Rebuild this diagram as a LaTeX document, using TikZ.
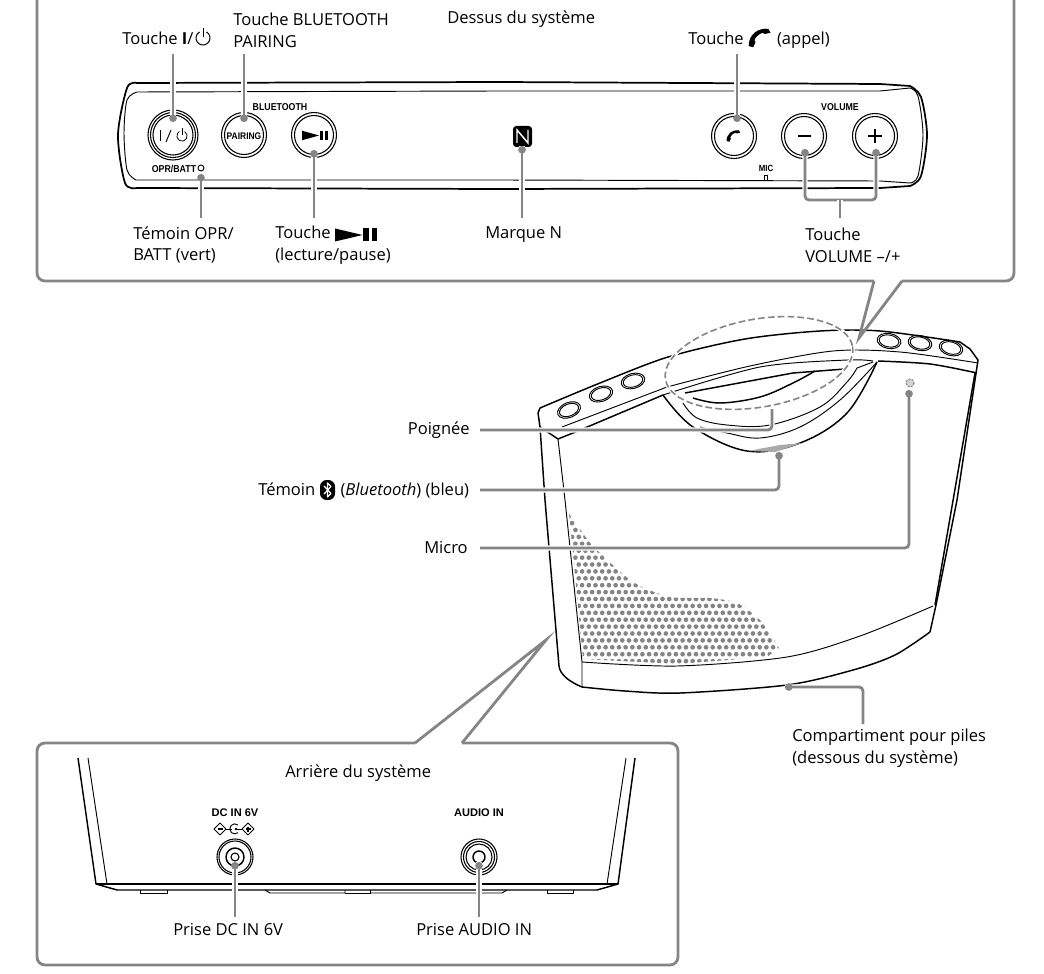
\documentclass[tikz,border=0pt]{standalone}
\usepackage{fontspec}
\setmainfont{Open Sans}
\newfontfamily\capfont[FakeStretch=0.88]{Liberation Sans}
\newfontfamily\widecapfont{Liberation Sans}
\usetikzlibrary{arrows.meta}

\definecolor{leadergray}{gray}{0.52}

\tikzset{
  lbl/.style={anchor=west,align=left,inner sep=0pt,font=\fontsize{12.4pt}{16.4pt}\selectfont},
  smallcap/.style={inner sep=0pt,font=\capfont\bfseries\fontsize{7.5pt}{8pt}\selectfont},
  widecap/.style={inner sep=0pt,font=\widecapfont\bfseries\fontsize{8.3pt}{9pt}\selectfont},
  leader/.style={draw=leadergray,line width=2.1pt,rounded corners=3pt,
    {Circle[length=5.6pt,width=5.6pt]}-,
    preaction={draw=white,line width=3.8pt,-}},
  plainleader/.style={draw=leadergray,line width=2.1pt,rounded corners=3pt,
    preaction={draw=white,line width=3.8pt}},
  callout/.style={draw=leadergray,line width=2.1pt,line join=miter},
  bodyline/.style={line width=1.1pt,line join=round},
  thinline/.style={line width=.7pt,line join=round},
  ring/.style={line width=.8pt},
  dashring/.style={draw=leadergray,line width=1.2pt,dash pattern=on 5pt off 2.4pt,
    preaction={draw=white,solid,line width=3pt}},
}

\newcommand\PowerIcon[4]{%% x, y, radius, line width
  \draw[line width=#4] (#1,#2) ++(-60:#3) arc[start angle=-60,end angle=240,radius=#3];
  \draw[line width=#4] (#1,#2-1.45*#3) -- (#1,#2-.1*#3);
}
\newcommand\PlayPause[4]{%% x, y, x size, y size
  \begin{scope}[shift={(#1,#2)},xscale=#3,yscale=#4]
    \fill (0,-5) -- (18,0) -- (0,5) -- cycle;
    \fill (18.5,-5) rectangle (22,5);
    \fill (24,-5) rectangle (27.5,5);
  \end{scope}
}
\newcommand\PhoneIcon[3]{%% x, y, size
  \begin{scope}[shift={(#1,#2)},scale=#3]
    \fill[line join=round] (-9,7) .. controls (-9,-3) and (-1,-9) .. (8,-8)
      -- (10,-4.5) -- (5,-3.5) -- (3,-4.5) .. controls (0,-3.5) and (-3,-1) .. (-4,2)
      -- (-3,3.5) -- (-5,8) -- cycle;
  \end{scope}
}
\newcommand\BtIcon[2]{%% x, y
  \fill[rounded corners=5pt] (#1-7.5,#2-10) rectangle (#1+7.5,#2+10);
  \draw[white,line width=.9pt,line join=round] (#1-3.5,#2-4) -- (#1+3.5,#2+3.5) -- (#1,#2+7)
    -- (#1,#2-7) -- (#1+3.5,#2-3.5) -- (#1-3.5,#2+4);
}

\begin{document}
\begin{tikzpicture}[x=.75pt,y=-.75pt]
  \useasboundingbox (0,0) rectangle (1044,973);

  %% speaker body
  \draw[bodyline] (558,439) -- (540,427) -- (538,413) -- (540,408)
    plot[smooth,tension=.5] coordinates {(540,408) (600,383) (668,357) (745,339) (820,331) (880,331) (960,342)}
    -- (970,349) -- (978,360) -- (957,500) -- (936,605) -- (930,632);
  \draw[bodyline] plot[smooth,tension=.5] coordinates {(930,632) (895,655) (853,670) (787,685) (680,693) (625,691) (582,687)};
  \draw[bodyline] (582,687) .. controls (570,682) and (560,675) .. (559,666) -- (545,500) -- (540,427);
  \draw[thinline] (558,439) -- (565,500) -- (582,662) -- (582,687);
  \draw[thinline] plot[smooth,tension=.5] coordinates {(582,662) (677,666) (787,657) (860,636) (933,606)};
  \draw[bodyline] (975,373) -- (935,605);
  \draw[thinline] (562,427) -- (667,387);
  \draw[thinline] plot[smooth,tension=.5] coordinates {(667,387) (750,366) (833,351) (900,352) (978,363)};
  \draw[bodyline] (558,439) -- (573,433) -- (663,395);
  \draw[thinline] plot[smooth,tension=.5] coordinates {(663,395) (760,367) (847,360) (873,361)};
  \draw[bodyline] plot[smooth,tension=.5] coordinates {(878,361) (930,364) (977,373)};

  %% handle
  \draw[bodyline] plot[smooth,tension=.6] coordinates {(663,395) (693,427) (747,451) (800,443) (847,413) (877,362)};
  \draw[thinline] plot[smooth,tension=.6] coordinates {(683,403) (697,418) (727,425) (770,425) (820,407) (847,382) (857,368)};
  \draw[thinline] (857,368) -- (873,362);
  \draw[thinline] plot[smooth,tension=.6] coordinates {(700,427) (727,433) (760,438) (800,427) (840,400) (877,362)};
  \draw[bodyline] (685,393) -- (793,373) -- (845,369);
  \draw[bodyline] plot[smooth,tension=.6] coordinates {(693,398) (720,403) (760,397) (793,383) (815,371)};
  \fill[leadergray!70] (748,451) -- (780,445) -- (802,443) -- (775,452) -- cycle;

  %% buttons on the body
  \foreach \bx/\by/\brot in {569/410/22, 601/394/18, 633/381/15, 889/341/-10, 920/343/-12, 951/348/-15}{
    \draw[thinline,rotate around={\brot:(\bx,\by)}] (\bx,\by) ellipse[x radius=12,y radius=7.5];
    \draw[thinline,rotate around={\brot:(\bx,\by)}] (\bx,\by) ellipse[x radius=10,y radius=6];
  }

  %% grille
  \begin{scope}
    \clip plot[smooth,tension=.4] coordinates {(569,513) (592,545) (633,582) (670,597) (710,598) (737,603) (760,620) (779,648)}
      -- (767,657) -- (677,664) -- (583,659) -- cycle;
    \foreach \r in {0,...,23}{
      \foreach \c in {0,...,32}{
        \pgfmathsetmacro\gx{562+6.7*\c+3.35*mod(\r,2)}
        \pgfmathsetmacro\gy{502.4+6.9*\r}
        \fill[leadergray] (\gx,\gy) circle (2.35);
      }
    }
  \end{scope}

  \draw[dashring,rotate around={10:(759,363)}] (759,363) ellipse[x radius=95,y radius=44];
  \draw[leadergray,line width=.8pt,dash pattern=on 1.5pt off 1pt,fill=leadergray!35] (910,383) circle (4);

  %% top panel
  \draw[callout,rounded corners=6pt] (37,-20) -- (37,281) -- (874,281);
  \draw[callout] (874,281) -- (859,338) -- (902,281);
  \draw[callout,rounded corners=6pt] (902,281) -- (1014,281) -- (1014,-20);

  \draw[line width=1.3pt,line join=round] plot[smooth,tension=.5] coordinates
    {(137,188) (125,183) (118,135) (127,88) (137,83)} -- (500,82) -- (880,84) -- (910,86)
    plot[smooth,tension=.5] coordinates {(910,86) (921,97) (927,135) (921,176) (910,186)}
    -- (880,188) -- (500,189) -- (137,188);
  \draw[thinline] plot[smooth,tension=.5] coordinates {(137,92) (127,100) (124,133) (127,170) (136,180)}
    -- (500,180) -- (880,181) -- (910,183)
    plot[smooth,tension=.5] coordinates {(910,183) (918,176) (923,135) (918,96) (910,88)}
    -- (880,91) -- (500,91) -- (137,92);

  \node[smallcap] (capbt) at (280,107) {BLUETOOTH};
  \node[smallcap] (capvol) at (840,107) {VOLUME};
  \node[smallcap] (capopr) at (174,169) {OPR/BATT};
  \node[smallcap,font=\capfont\bfseries\fontsize{6.7pt}{8pt}\selectfont] (capmic) at (766,168) {MIC};
  \draw[thinline] (764.5,175) rectangle (767,180);
  \draw[thinline,fill=white] (201,168) circle (3);

  \foreach \r in {25,22.5,20}{\draw[ring] (173,135) circle (\r);}
  \foreach \bx/\by in {244/135, 314/135, 734/136, 804/136, 875/136}{
    \draw[ring] (\bx,\by) circle (22.5);
    \draw[ring] (\bx,\by) circle (19.5);
  }
  \draw[line width=.7pt] (160.5,130) -- (160.5,141);
  \draw[line width=.7pt] (166,142) -- (171,130);
  \PowerIcon{182}{136}{5.2}{.6pt}
  \node[smallcap,font=\capfont\bfseries\fontsize{7.2pt}{8pt}\selectfont] (cappair) at (244,136) {PAIRING};
  \PlayPause{302}{135.5}{.95}{.95}
  \PhoneIcon{733}{136}{.72}
  \draw[line width=2.2pt] (798,136) -- (811,136);
  \draw[line width=1.8pt] (868,136) -- (882,136) (875,129) -- (875,143);

  %% N mark
  \fill[rounded corners=2.5pt] (513,126) rectangle (532,147);
  \draw[white,line width=1.1pt] (517,143) -- (517,130) -- (528,143) -- (528,130);

  %% labels of the panel
  \node[lbl] (ltpower) at (122,38) {Touche \textbf{I}/};
  \PowerIcon{203}{38}{7}{.75pt}
  \node[lbl] (ltpair) at (233,30) {Touche BLUETOOTH\\PAIRING};
  \node[lbl] (lttop) at (447,19) {Dessus du système};
  \node[lbl] (ltcall) at (688,40) {Touche\hspace{25pt}(appel)};
  \PhoneIcon{759}{38}{1.15}
  \node[lbl] (ltopr) at (133,245) {Témoin OPR/\\BATT (vert)};
  \node[lbl] (ltplay) at (275,245) {Touche \\(lecture/pause)};
  \PlayPause{335}{235}{1.53}{1.3}
  \node[lbl] (ltn) at (485,235) {Marque N};
  \node[lbl] (ltvol) at (805,245) {Touche\\VOLUME –/+};

  \coordinate (dotpower) at (173,122);
  \coordinate (endpower) at (173,54);
  \coordinate (dotpair) at (244,122);
  \coordinate (endpair) at (244,54);
  \coordinate (dotopr) at (201,174);
  \coordinate (endopr) at (201,218);
  \coordinate (dotplay) at (314,150);
  \coordinate (endplay) at (314,218);
  \coordinate (dotn) at (522,146);
  \coordinate (endn) at (522,218);
  \coordinate (dotcall) at (737,122);
  \coordinate (endcall) at (737,54);
  \coordinate (dotminus) at (805,149);
  \coordinate (dotplus) at (876,149);
  \coordinate (joinvol) at (840,200);
  \coordinate (endvol) at (840,218);

  \draw[leader] (dotpower) -- (endpower);
  \draw[leader] (dotpair) -- (endpair);
  \draw[leader] (dotopr) -- (endopr);
  \draw[leader] (dotplay) -- (endplay);
  \draw[leader] (dotn) -- (endn);
  \draw[leader] (dotcall) -- (endcall);
  \draw[leader] (dotminus) |- (joinvol);
  \draw[leader] (dotplus) |- (joinvol);
  \draw[plainleader] (joinvol) -- (endvol);

  %% labels of the body
  \node[lbl,anchor=east] (ltgrip) at (470,430) {Poignée};
  \node[lbl] (ltbt) at (258,490) {Témoin\hspace{19pt}(\textit{Bluetooth}) (bleu)};
  \BtIcon{327.5}{490}
  \node[lbl] (ltmic) at (424,548) {Micro};
  \node[lbl] (ltbatt) at (792,748) {Compartiment pour piles\\(dessous du système)};

  \coordinate (dotgrip) at (772,409);
  \coordinate (endgrip) at (480,430);
  \coordinate (dotbt) at (779,452);
  \coordinate (endbt) at (480,490);
  \coordinate (dotmic) at (909,390);
  \coordinate (endmic) at (480,548);
  \coordinate (dotbatt) at (785,687);
  \coordinate (endbatt) at (863,724);

  \draw[plainleader] (dotgrip) |- (endgrip);
  \draw[leader] (dotbt) |- (endbt);
  \draw[leader] (dotmic) |- (endmic);
  \draw[leader] (dotbatt) -| (endbatt);

  %% rear panel
  \draw[callout,rounded corners=6pt] (415,743) -- (37,743) -- (37,965) -- (678,965) -- (678,743) -- (462,743);
  \draw[callout] (415,743) -- (546,640) -- (462,743);

  \draw[bodyline] (78,758) -- (96,884) -- (117,890) -- (597,890) -- (618,884) -- (635,758);
  \draw[thinline] (88,758) -- (107,884) (626,758) -- (607,884);
  \draw[bodyline] (96,884) -- (618,884);
  \draw[thinline] (140,890) -- (140,893) -- (167,893) -- (167,890);
  \draw[thinline] (265,890) -- (270,893) -- (345,893) -- (345,890);
  \draw[thinline] (345,893) -- (370,893) -- (370,890);
  \draw[thinline] (370,893) -- (445,893) -- (502,893) -- (507,890);
  \draw[thinline] (547,890) -- (547,893) -- (573,893) -- (573,890);

  \node[lbl] (ltrear) at (285,773) {Arrière du système};
  \node[widecap] (capdc) at (235,813) {DC IN 6V};
  \node[widecap] (capaudio) at (479,813) {AUDIO IN};

  %% polarity sign
  \draw[thinline] (220,823) -- (226,829) -- (220,835) -- (214,829) -- cycle;
  \draw[thinline] (248,823) -- (254,829) -- (248,835) -- (242,829) -- cycle;
  \draw[line width=.8pt] (217.5,829) -- (222.5,829) (245.5,829) -- (250.5,829) (248,826.5) -- (248,831.5);
  \draw[thinline] (226,829) -- (232,829) (236,829) -- (242,829);
  \draw[thinline] (238,825) arc[start angle=-50,end angle=-310,radius=5];
  \fill (236,829) circle (1.4);

  \foreach \r in {18,16}{\draw[ring] (235,857) circle (\r);}
  \draw[bodyline] (235,857) circle (9);
  \draw[ring] (235,857) circle (4);
  \foreach \r in {18,15.5,13}{\draw[ring] (479,857) circle (\r);}
  \draw[bodyline] (479,857) circle (6);

  \node[lbl] (ltdc) at (173,930) {Prise DC IN 6V};
  \node[lbl] (ltaudio) at (416,930) {Prise AUDIO IN};

  \coordinate (dotdc) at (235,862);
  \coordinate (enddc) at (235,917);
  \coordinate (dotaudio) at (479,862);
  \coordinate (endaudio) at (479,917);
  \draw[leader] (dotdc) -- (enddc);
  \draw[leader] (dotaudio) -- (endaudio);
\end{tikzpicture}
\end{document}
